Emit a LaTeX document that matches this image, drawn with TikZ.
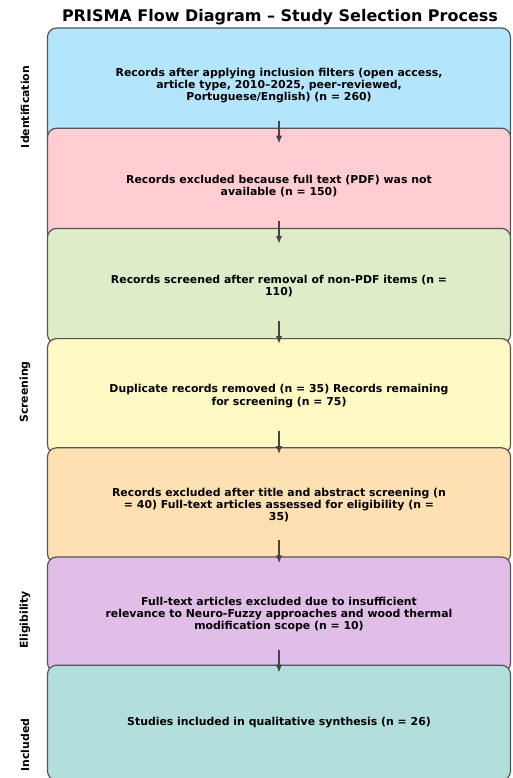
\documentclass[tikz,border=0pt]{standalone}
\usepackage{fontspec}
\setmainfont{DejaVu Sans}
\usepackage{tikz}
\usetikzlibrary{arrows.meta}
\usetikzlibrary{positioning}

\definecolor{idblue}{HTML}{B3E5FC}
\definecolor{expink}{HTML}{FFCDD2}
\definecolor{scgreen}{HTML}{DCEDC8}
\definecolor{dupyellow}{HTML}{FFF9C4}
\definecolor{taorange}{HTML}{FFE0B2}
\definecolor{elpurple}{HTML}{E1BEE7}
\definecolor{inteal}{HTML}{B2DFDB}
\definecolor{edgegray}{HTML}{555555}
\definecolor{arrowgray}{HTML}{444444}

\begin{document}
\begin{tikzpicture}[x=1pt,y=1pt,>={Latex[length=8pt,width=6.5pt]},
                    stage box/.style={draw=edgegray,line width=1.2pt,rounded corners=9pt,
                      minimum width=463pt,minimum height=115pt,align=center,
                      font=\fontsize{10.9}{12.2}\selectfont\bfseries},
                    step arrow/.style={->,draw=arrowgray,fill=arrowgray,line width=1.6pt},
                    phase label/.style={rotate=90,font=\fontsize{10.9}{13}\selectfont\bfseries}]

  \useasboundingbox (0,0) rectangle (512,-778);

  \node[font=\fontsize{16}{19}\selectfont\bfseries] (title) at (280,-17)
    {PRISMA Flow Diagram -- Study Selection Process};

  \node[stage box,fill=idblue] (1) at (279,-85.5)
    {Records after applying inclusion filters (open access,\\
     article type, 2010--2025, peer-reviewed,\\
     Portuguese/English) (n = 260)};
  \node[stage box,fill=expink] (2) [below=-16pt of 1]
    {Records excluded because full text (PDF) was not\\
     available (n = 150)};
  \node[stage box,fill=scgreen] (3) [below=-16pt of 2]
    {Records screened after removal of non-PDF items (n =\\
     110)};
  \node[stage box,fill=dupyellow] (4) [below=-6pt of 3]
    {Duplicate records removed (n = 35) Records remaining\\
     for screening (n = 75)};
  \node[stage box,fill=taorange] (5) [below=-7pt of 4]
    {Records excluded after title and abstract screening (n\\
     = 40) Full-text articles assessed for eligibility (n =\\
     35)};
  \node[stage box,fill=elpurple] (6) [below=-7pt of 5]
    {Full-text articles excluded due to insufficient\\
     relevance to Neuro-Fuzzy approaches and wood thermal\\
     modification scope (n = 10)};
  \node[stage box,fill=inteal] (7) [below=-8pt of 6]
    {Studies included in qualitative synthesis (n = 26)};

  \foreach \i in {1,...,6}
    \draw[step arrow] ([yshift=23pt]\i.south) -- (\i.south);

  \node[phase label] (identification) at (25,-107) {Identification};
  \node[phase label] (screening) at (25,-392) {Screening};
  \node[phase label] (eligibility) at (25,-620) {Eligibility};
  \node[phase label] (included) at (25,-745) {Included};

\end{tikzpicture}
\end{document}
